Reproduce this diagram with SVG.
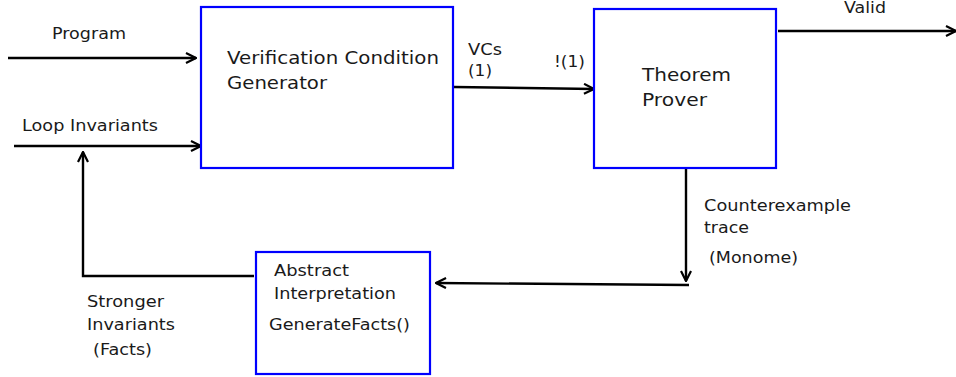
<svg xmlns="http://www.w3.org/2000/svg" width="956" height="377" viewBox="0 0 956 377">
<style>
.box{fill:#fff;stroke:#0000ff;stroke-width:2.2}
.t{font-family:"DejaVu Sans",sans-serif;font-size:15px;fill:#1a1a1a}
.b{font-size:17px}
.c{stroke:#000;stroke-width:2.4;fill:none}
</style>
<defs>
<marker id="a" viewBox="0 0 12 12" refX="11" refY="6" markerWidth="12" markerHeight="12" markerUnits="userSpaceOnUse" orient="auto">
<path d="M1,1 L11,6 L1,11" fill="none" stroke="#000" stroke-width="2.2"/>
</marker>
</defs>
<rect width="956" height="377" fill="#fff"/>
<g id="connectors">
<line class="c" x1="8" y1="58" x2="196" y2="58" marker-end="url(#a)"/>
<line class="c" x1="14" y1="146" x2="201" y2="146" marker-end="url(#a)"/>
<polyline class="c" points="254,276 83,276 83,152" marker-end="url(#a)"/>
<line class="c" x1="454" y1="87" x2="594" y2="89" marker-end="url(#a)"/>
<line class="c" x1="778" y1="31" x2="956" y2="31" marker-end="url(#a)"/>
<line class="c" x1="686" y1="169" x2="686" y2="281" marker-end="url(#a)"/>
<line class="c" x1="689" y1="285" x2="436" y2="283" marker-end="url(#a)"/>
</g>
<g id="vcg">
<rect class="box" x="201" y="7" width="252" height="161"/>
<text class="t b" x="227" y="64" textLength="212" lengthAdjust="spacingAndGlyphs">Verification Condition</text>
<text class="t b" x="227" y="89" textLength="100" lengthAdjust="spacingAndGlyphs">Generator</text>
</g>
<g id="tp">
<rect class="box" x="594" y="9" width="182" height="159"/>
<text class="t b" x="642" y="81" textLength="89" lengthAdjust="spacingAndGlyphs">Theorem</text>
<text class="t b" x="642" y="106" textLength="65" lengthAdjust="spacingAndGlyphs">Prover</text>
</g>
<g id="ai">
<rect class="box" x="256" y="252" width="174" height="122"/>
<text class="t" x="274" y="276" textLength="75" lengthAdjust="spacingAndGlyphs">Abstract</text>
<text class="t" x="274" y="299" textLength="122" lengthAdjust="spacingAndGlyphs">Interpretation</text>
<text class="t" x="269" y="330" textLength="141" lengthAdjust="spacingAndGlyphs">GenerateFacts()</text>
</g>
<g id="labels">
<text class="t" x="52" y="39" textLength="74" lengthAdjust="spacingAndGlyphs">Program</text>
<text class="t" x="22" y="131" textLength="136" lengthAdjust="spacingAndGlyphs">Loop Invariants</text>
<text class="t" x="468" y="55" textLength="34" lengthAdjust="spacingAndGlyphs">VCs</text>
<text class="t" x="468" y="76" textLength="24" lengthAdjust="spacingAndGlyphs">(1)</text>
<text class="t" x="554" y="67" textLength="31" lengthAdjust="spacingAndGlyphs">!(1)</text>
<text class="t" x="844" y="13" textLength="42" lengthAdjust="spacingAndGlyphs">Valid</text>
<text class="t" x="704" y="211" textLength="147" lengthAdjust="spacingAndGlyphs">Counterexample</text>
<text class="t" x="704" y="233" textLength="45" lengthAdjust="spacingAndGlyphs">trace</text>
<text class="t" x="709" y="263" textLength="89" lengthAdjust="spacingAndGlyphs">(Monome)</text>
<text class="t" x="87" y="307" textLength="77" lengthAdjust="spacingAndGlyphs">Stronger</text>
<text class="t" x="87" y="330" textLength="88" lengthAdjust="spacingAndGlyphs">Invariants</text>
<text class="t" x="93" y="355" textLength="59" lengthAdjust="spacingAndGlyphs">(Facts)</text>
</g>
</svg>
